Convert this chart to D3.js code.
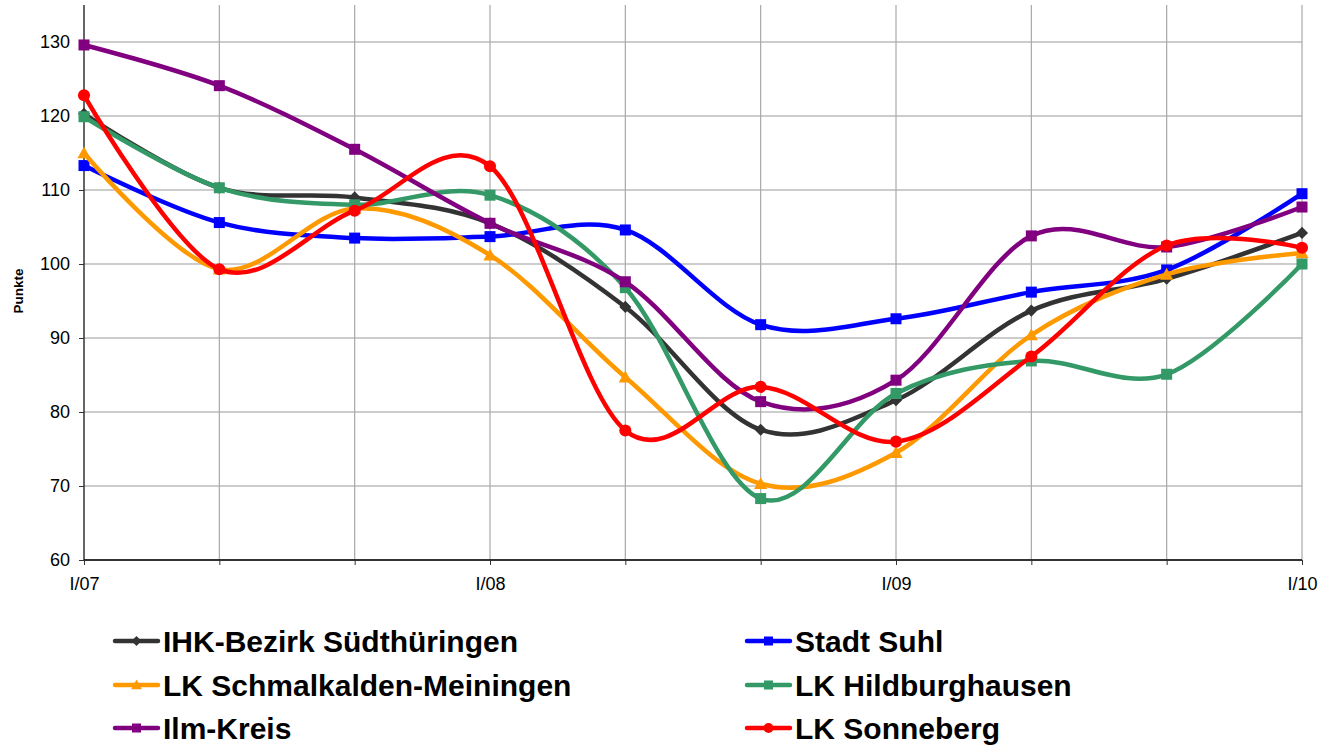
<!DOCTYPE html>
<html>
<head>
<meta charset="utf-8">
<script src="https://cdn.jsdelivr.net/npm/d3@7"></script>
<style>
  body { margin: 0; background: #fff; }
  text { font-family: "Liberation Sans", Arial, sans-serif; }
</style>
</head>
<body>
<div id="chart"></div>
<script>
// half-year points from I/07 to I/10, only the I/yy ones are labelled
const periods = ["I/07", "p2", "p3", "I/08", "p5", "p6", "I/09", "p8", "p9", "I/10"];
const xLabels = ["I/07", "", "", "I/08", "", "", "I/09", "", "", "I/10"];

const ihk         = [120.3, 110.3, 109.0, 105.5, 94.2, 77.6, 81.6, 93.7, 98.0, 104.2];
const suhl        = [113.3, 105.6, 103.5, 103.7, 104.6, 91.8, 92.6, 96.2, 99.2, 109.5];
const schmalkalden= [115.0, 99.3, 107.5, 101.2, 84.7, 70.3, 74.5, 90.4, 98.6, 101.5];
const hildburg    = [119.9, 110.3, 108.0, 109.3, 96.8, 68.3, 82.5, 86.9, 85.1, 100.0];
const ilm         = [129.6, 124.1, 115.5, 105.5, 97.6, 81.4, 84.3, 103.8, 102.3, 107.7];
const sonneberg   = [122.8, 99.3, 107.2, 113.2, 77.5, 83.4, 76.0, 87.5, 102.5, 102.2];

const series = [
  { name: "IHK-Bezirk Südthüringen", values: ihk, color: "#333333", marker: "diamond" },
  { name: "Stadt Suhl", values: suhl, color: "#0000ff", marker: "square" },
  { name: "LK Schmalkalden-Meiningen", values: schmalkalden, color: "#ff9900", marker: "triangle" },
  { name: "LK Hildburghausen", values: hildburg, color: "#339966", marker: "square" },
  { name: "Ilm-Kreis", values: ilm, color: "#800080", marker: "square" },
  { name: "LK Sonneberg", values: sonneberg, color: "#ff0000", marker: "circle" }
];
const yTicks = [60, 70, 80, 90, 100, 110, 120, 130];

const width = 1336, height = 749;
const svg = d3.select("#chart").append("svg")
  .attr("width", width).attr("height", height);

const x = d3.scalePoint().domain(d3.range(periods.length)).range([84, 1302]);
const y = d3.scaleLinear().domain([60, 135]).range([560, 5]);

// grid
svg.append("g").selectAll("line").data(yTicks).join("line")
  .attr("x1", 84).attr("x2", 1302)
  .attr("y1", d => y(d)).attr("y2", d => y(d))
  .attr("stroke", "#9a9a9a").attr("stroke-width", 1.2);
svg.append("g").selectAll("line").data(d3.range(1, periods.length)).join("line")
  .attr("x1", d => x(d)).attr("x2", d => x(d))
  .attr("y1", y(135)).attr("y2", y(60))
  .attr("stroke", "#a8a8a8").attr("stroke-width", 1.2);

// axes
const yAxis = d3.axisLeft(y).tickValues(yTicks).tickSize(5).tickPadding(9);
const gy = svg.append("g").attr("transform", "translate(84,0)").call(yAxis);
gy.select(".domain").attr("stroke", "#333").attr("stroke-width", 1.5).attr("d", `M0,${y(135)}V${y(60)}`);
gy.selectAll(".tick line").attr("stroke", "#333");
gy.selectAll("text").attr("font-size", 18).attr("fill", "#000")
  .attr("font-family", "Liberation Sans, Arial, sans-serif");

const xAxis = d3.axisBottom(x).tickFormat(i => xLabels[i]).tickSize(5).tickPadding(12);
const gx = svg.append("g").attr("transform", "translate(0,560)").call(xAxis);
gx.select(".domain").attr("stroke", "#000").attr("stroke-width", 1.5).attr("d", "M84,0H1302");
gx.selectAll(".tick line").attr("stroke", "#333");
gx.selectAll("text").attr("font-size", 18).attr("fill", "#000")
  .attr("font-family", "Liberation Sans, Arial, sans-serif");

svg.append("text")
  .attr("transform", "translate(23,291) rotate(-90)")
  .attr("text-anchor", "middle")
  .attr("font-size", 13.5).attr("font-weight", "bold")
  .text("Punkte");

const line = d3.line()
  .x((d, i) => x(i))
  .y(d => y(d))
  .curve(d3.curveCardinal.tension(0));

function marker(g, type, color, size) {
  if (type === "circle") {
    g.append("circle").attr("r", size * 0.55).attr("fill", color);
  } else if (type === "square") {
    g.append("rect").attr("x", -size / 2).attr("y", -size / 2)
      .attr("width", size).attr("height", size).attr("fill", color);
  } else if (type === "diamond") {
    const s = size * 0.55;
    g.append("path").attr("d", `M0,${-s}L${s},0L0,${s}L${-s},0Z`).attr("fill", color);
  } else if (type === "triangle") {
    const s = size * 0.6;
    g.append("path").attr("d", `M0,${-s}L${s},${s * 0.8}L${-s},${s * 0.8}Z`).attr("fill", color);
  }
}

series.forEach(s => {
  svg.append("path")
    .attr("d", line(s.values))
    .attr("fill", "none")
    .attr("stroke", s.color)
    .attr("stroke-width", 4.5)
    .attr("stroke-linejoin", "round");
  s.values.forEach((v, i) => {
    const g = svg.append("g").attr("transform", `translate(${x(i)},${y(v)})`);
    marker(g, s.marker, s.color, 11);
  });
});

// legend, two columns
const legendPos = [[115, 641], [747, 641], [115, 685], [747, 685], [115, 728], [747, 728]];
series.forEach((s, k) => {
  const [lx, ly] = legendPos[k];
  const g = svg.append("g").attr("transform", `translate(${lx},${ly})`);
  g.append("line").attr("x1", 0).attr("x2", 43).attr("y1", 0).attr("y2", 0)
    .attr("stroke", s.color).attr("stroke-width", 4.5).attr("stroke-linecap", "round");
  const m = g.append("g").attr("transform", "translate(21.5,0)");
  marker(m, s.marker, s.color, 9);
  g.append("text").attr("x", 48).attr("y", 11)
    .attr("font-size", 30).attr("font-weight", "bold")
    .text(s.name);
});
</script>
</body>
</html>
